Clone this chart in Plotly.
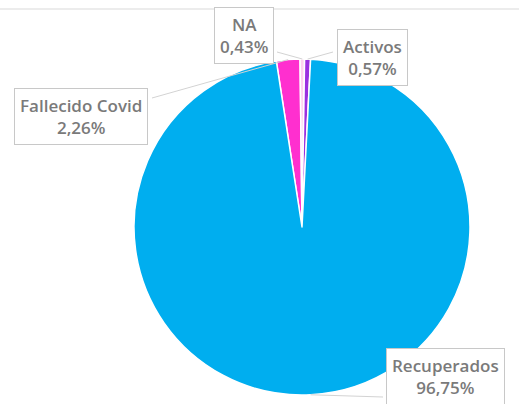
import math
import plotly.graph_objects as go

# Data
labels = ["Fallecido Covid", "NA", "Activos", "Recuperados"]
values = [2.26, 0.43, 0.57, 96.75]
value_text = ["2,26%", "0,43%", "0,57%", "96,75%"]
colors = ["#FF2FCF", "#FFD3F0", "#9B30E0", "#00AEEF"]

W, H = 519, 404
cx, cy, R = 302, 227, 168  # pie centre / radius in pixels
start_deg = -8.8           # angle of first slice edge (clockwise from 12 o'clock)

dom_x = [(cx - R) / W, (cx + R) / W]
dom_y = [1 - (cy + R) / H, 1 - (cy - R) / H]

fig = go.Figure(go.Pie(
    labels=labels, values=values, sort=False, direction="clockwise",
    rotation=start_deg,
    marker=dict(colors=colors, line=dict(color="white", width=1.5)),
    textinfo="none", hoverinfo="label+percent", showlegend=False,
    domain=dict(x=dom_x, y=dom_y),
))

# label box centres and leader attachment points (pixels)
box_pos = {"Fallecido Covid": (81, 116), "NA": (244, 36),
           "Activos": (372, 57), "Recuperados": (445, 376)}
attach = {"Fallecido Covid": (152, 98), "NA": (277, 52),
          "Activos": (333, 52), "Recuperados": (383, 397)}

def px(x, y):
    return x / W, 1 - y / H

fig.add_shape(type="line", xref="paper", yref="paper", x0=0, x1=1,
              y0=1 - 9 / H, y1=1 - 9 / H, line=dict(color="#D9D9D9", width=1),
              layer="below")

total = sum(values)
acc = 0.0
for lab, v, t in zip(labels, values, value_text):
    mid = start_deg + 360 * (acc + v / 2) / total
    acc += v
    a = math.radians(mid)
    tx = cx + R * math.sin(a)
    ty = cy - R * math.cos(a)
    ax_, ay_ = attach[lab]
    x0, y0 = px(tx, ty)
    x1, y1 = px(ax_, ay_)
    fig.add_shape(type="line", xref="paper", yref="paper",
                  x0=x0, y0=y0, x1=x1, y1=y1,
                  line=dict(color="#D3D3D3", width=1))
    bx, by = px(*box_pos[lab])
    fig.add_annotation(
        x=bx, y=by, xref="paper", yref="paper",
        text=f"{lab}<br>{t}", showarrow=False,
        font=dict(family="Open Sans", size=17, color="#7A7A7A", weight=600),
        bgcolor="white", bordercolor="#C8C8C8", borderwidth=1, borderpad=5,
        align="center", xanchor="center", yanchor="middle")

fig.update_layout(width=W, height=H, margin=dict(l=0, r=0, t=0, b=0),
                  paper_bgcolor="white", plot_bgcolor="white")
fig.write_html("out.html", config={"displayModeBar": False},
               post_script="document.body.style.margin='0';")
